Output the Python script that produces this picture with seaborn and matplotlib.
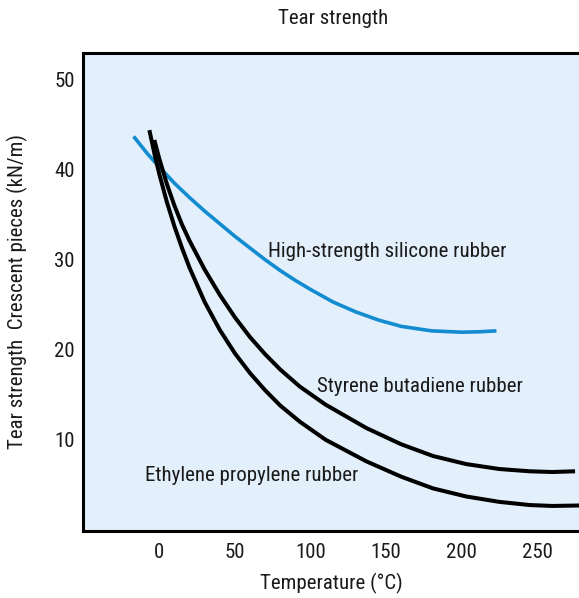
import matplotlib
matplotlib.use("Agg")
import matplotlib.pyplot as plt
import seaborn as sns
import pandas as pd
from matplotlib import font_manager

# ---- data ----
silicone_x = [-17, -8, 0, 10, 20, 30, 40, 50, 60, 70, 80, 90, 100, 115, 130, 145, 160, 180, 200, 212, 223]
silicone_y = [43.7, 41.8, 40.3, 38.5, 36.9, 35.4, 34.0, 32.6, 31.3, 30.0, 28.8, 27.7, 26.7, 25.3, 24.2, 23.3, 22.6, 22.1, 21.95, 22.0, 22.1]

sbr_x = [-3.3, 0, 5, 10, 15, 20, 30, 40, 50, 60, 70, 80, 93, 110, 137, 160, 181, 203, 225, 245, 260, 275]
sbr_y = [43.3, 41.2, 38.4, 36.0, 33.9, 32.1, 28.9, 26.1, 23.6, 21.4, 19.5, 17.8, 15.9, 13.9, 11.3, 9.5, 8.2, 7.3, 6.75, 6.5, 6.42, 6.5]

epr_x = [-6.6, -3, 0, 5, 10, 15, 20, 30, 40, 50, 60, 70, 80, 93, 110, 137, 160, 181, 203, 225, 245, 260, 277.6]
epr_y = [44.4, 41.6, 39.5, 36.4, 33.7, 31.3, 29.1, 25.3, 22.2, 19.6, 17.4, 15.5, 13.8, 12.0, 10.0, 7.6, 5.9, 4.6, 3.7, 3.1, 2.75, 2.65, 2.7]

x_ticks = [0, 50, 100, 150, 200, 250]
y_ticks = [10, 20, 30, 40, 50]

labels = ["High-strength silicone rubber", "Styrene butadiene rubber", "Ethylene propylene rubber"]

df_sil = pd.DataFrame({"Temperature": silicone_x, "Strength": silicone_y})
df_sbr = pd.DataFrame({"Temperature": sbr_x, "Strength": sbr_y})
df_epr = pd.DataFrame({"Temperature": epr_x, "Strength": epr_y})

# ---- style ----
sns.set_theme(style="white")

# pick a narrow / condensed sans if one is installed
entries = font_manager.fontManager.ttflist
fprop = None
FS = 15
pref = ["liberationsansnarrow-regular", "robotocondensed-regular", "dejavusanscondensed.ttf",
        "opensans_condensed-regular", "opensanscondensed-regular"]
for key in pref:
    for f in entries:
        if key in f.fname.lower().replace(" ", "").replace("_", ""):
            fprop = f.fname
            break
    if fprop:
        break
if fprop is None:
    for f in entries:
        low = f.fname.lower()
        if ("narrow" in low or "condensed" in low) and "bold" not in low and "italic" not in low \
                and "oblique" not in low and "light" not in low and "semi" not in low:
            fprop = f.fname
            break

if fprop is not None:
    font_manager.fontManager.addfont(fprop)
    fam = font_manager.FontProperties(fname=fprop).get_name()
    plt.rcParams["font.family"] = [fam, "DejaVu Sans"]
    if "dejavu" in fprop.lower():
        FS = 13.5
else:
    plt.rcParams["font.family"] = ["Liberation Sans", "DejaVu Sans"]
    FS = 13.5

BG = "#E3F0FB"
BLUE = "#128BD0"
TXT = "#1a1a1a"

fig = plt.figure(figsize=(5.79, 5.98), dpi=100)
fig.patch.set_facecolor("white")
AX_L, AX_R, AX_T, AX_B = 83, 579, 52.7, 530.7
ax = fig.add_axes([AX_L / 579, 1 - AX_B / 598, (AX_R - AX_L) / 579, (AX_B - AX_T) / 598])
ax.set_facecolor(BG)

sns.lineplot(data=df_sil, x="Temperature", y="Strength", ax=ax, color=BLUE,
             linewidth=2.6, sort=False, estimator=None)
sns.lineplot(data=df_sbr, x="Temperature", y="Strength", ax=ax, color="black",
             linewidth=2.9, sort=False, estimator=None)
sns.lineplot(data=df_epr, x="Temperature", y="Strength", ax=ax, color="black",
             linewidth=2.9, sort=False, estimator=None)
for ln in ax.lines:
    ln.set_solid_capstyle("butt")
    ln.set_solid_joinstyle("round")

ax.set_xlim(-50.5, 277.6)
ax.set_ylim(-0.1, 53.0)
ax.set_xticks(x_ticks)
ax.set_yticks(y_ticks)
ax.tick_params(axis="both", direction="in", length=5.5, width=1.0, color="black",
               labelsize=FS, labelcolor=TXT, pad=6)
ax.tick_params(axis="x", pad=9)

for side in ["left", "bottom", "top"]:
    ax.spines[side].set_visible(True)
    ax.spines[side].set_color("black")
    ax.spines[side].set_linewidth(2.2)
ax.spines["right"].set_visible(False)

ax.set_xlabel("Temperature (°C)", fontsize=FS, color=TXT)
ax.xaxis.set_label_coords(0.5, -(583 - AX_B) / (AX_B - AX_T))
ax.xaxis.label.set_va("center")
ax.set_ylabel("Tear strength  Crescent pieces (kN/m)", fontsize=FS, color=TXT)
ax.yaxis.set_label_coords(-(AX_L - 17.5) / (AX_R - AX_L), 0.5)
ax.yaxis.label.set_va("center")
fig.text(333 / 579, 1 - 18.5 / 598, "Tear strength", ha="center", va="center",
         fontsize=FS, color=TXT)

ax.text(71.7, 30.9, labels[0], fontsize=FS, color=TXT, va="center", ha="left")
ax.text(104.1, 15.9, labels[1], fontsize=FS, color=TXT, va="center", ha="left")
ax.text(-9.5, 6.0, labels[2], fontsize=FS, color=TXT, va="center", ha="left")

fig.savefig("out.png", dpi=100, facecolor="white")
